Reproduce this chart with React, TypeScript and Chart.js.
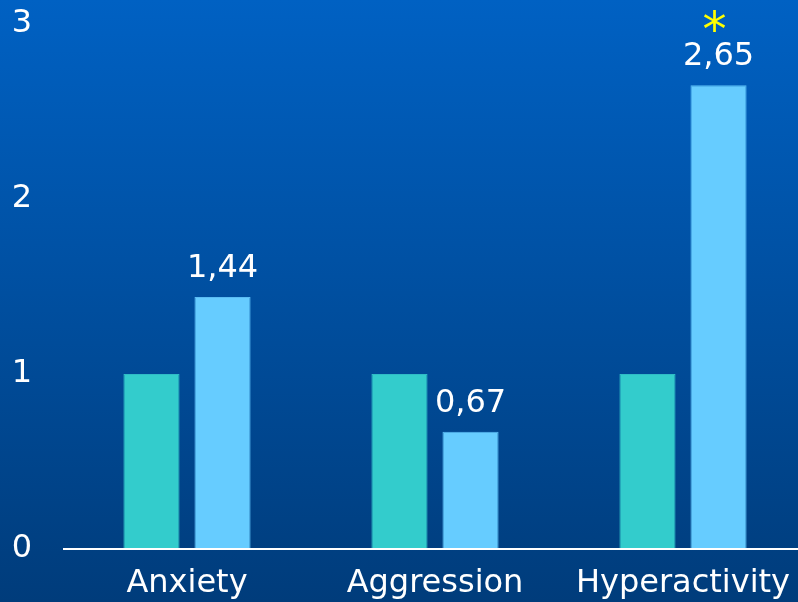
import React, { useEffect, useRef } from "react";
import { Chart, registerables } from "chart.js";

Chart.register(...registerables);

const categories = ["Anxiety", "Aggression", "Hyperactivity"];
const referenceValues = [1, 1, 1];
const observedValues = [1.44, 0.67, 2.65];
const significance = ["", "", "*"];
const yTicks = [0, 1, 2, 3];

const FONT = "'DejaVu Sans', Verdana, sans-serif";

const formatComma = (v: number) => v.toFixed(2).replace(".", ",");

const backgroundPlugin = {
  id: "slideBackground",
  beforeDraw(chart: any) {
    const { ctx, width, height } = chart;
    const g = ctx.createLinearGradient(0, 0, 0, height);
    g.addColorStop(0, "#0061c3");
    g.addColorStop(1, "#003c7b");
    ctx.save();
    ctx.fillStyle = g;
    ctx.fillRect(0, 0, width, height);
    ctx.restore();
  },
};

const baselinePlugin = {
  id: "zeroLine",
  afterDatasetsDraw(chart: any) {
    const { ctx, chartArea, scales } = chart;
    const y = scales.y.getPixelForValue(0);
    ctx.save();
    ctx.strokeStyle = "#ffffff";
    ctx.lineWidth = 2;
    ctx.beginPath();
    ctx.moveTo(chartArea.left, y);
    ctx.lineTo(chart.width, y);
    ctx.stroke();
    ctx.restore();
  },
};

const valueLabelPlugin = {
  id: "valueLabels",
  afterDatasetsDraw(chart: any) {
    const { ctx } = chart;
    const meta = chart.getDatasetMeta(1);
    ctx.save();
    ctx.textAlign = "center";
    ctx.textBaseline = "alphabetic";
    meta.data.forEach((bar: any, i: number) => {
      const baseY = bar.y - 20;
      ctx.fillStyle = "#ffffff";
      ctx.font = `32px ${FONT}`;
      ctx.fillText(formatComma(observedValues[i]), bar.x, baseY);
      if (significance[i]) {
        ctx.fillStyle = "#ffff00";
        ctx.font = `48px ${FONT}`;
        ctx.fillText(significance[i], bar.x - 4, baseY - 19);
      }
    });
    ctx.restore();
  },
};

export default function App() {
  const canvasRef = useRef<HTMLCanvasElement | null>(null);

  useEffect(() => {
    document.body.style.margin = "0";
    const canvas = canvasRef.current;
    if (!canvas) return;
    const chart = new Chart(canvas, {
      type: "bar",
      data: {
        labels: categories,
        datasets: [
          {
            data: referenceValues,
            backgroundColor: "#33cccc",
            borderColor: "#2fbcc6",
            borderWidth: 1,
            categoryPercentage: 0.573,
            barPercentage: 0.79,
          },
          {
            data: observedValues,
            backgroundColor: "#66ccff",
            borderColor: "#5abcf3",
            borderWidth: 1,
            categoryPercentage: 0.573,
            barPercentage: 0.79,
          },
        ],
      },
      options: {
        responsive: false,
        animation: false,
        devicePixelRatio: 1,
        layout: { padding: { top: 0, right: 3, bottom: 0, left: 0 } },
        plugins: {
          legend: { display: false },
          tooltip: { enabled: false },
        },
        scales: {
          x: {
            grid: { display: false, drawTicks: false },
            border: { display: false },
            ticks: {
              color: "#ffffff",
              font: { family: FONT, size: 32 },
              padding: 15,
              maxRotation: 0,
              autoSkip: false,
            },
            afterFit(scale: any) {
              scale.height = 53;
            },
          },
          y: {
            min: 0,
            max: 3,
            grid: { display: false, drawTicks: false },
            border: { display: false },
            afterBuildTicks(scale: any) {
              scale.ticks = yTicks.map((v) => ({ value: v }));
            },
            ticks: {
              color: "#ffffff",
              font: { family: FONT, size: 32 },
              padding: 31,
              callback: (v: any) => String(v),
            },
            afterFit(scale: any) {
              scale.width = 63;
              scale.paddingTop = 24;
              scale.paddingBottom = 0;
            },
          },
        },
      },
      plugins: [backgroundPlugin, baselinePlugin, valueLabelPlugin],
    });
    return () => chart.destroy();
  }, []);

  return (
    <div style={{ width: 798, height: 602, overflow: "hidden", position: "relative" }}>
      <canvas ref={canvasRef} width={810} height={602} style={{ display: "block" }} />
    </div>
  );
}
